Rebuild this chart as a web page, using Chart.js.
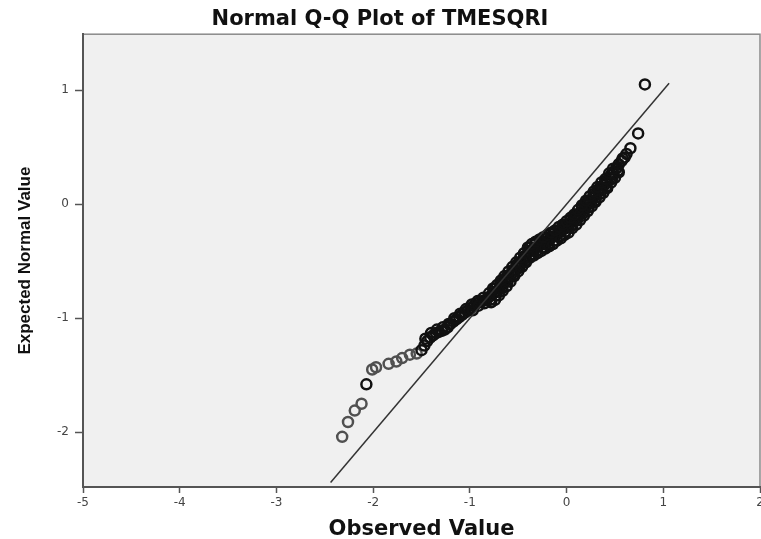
<!DOCTYPE html>
<html lang="en">
<head>
  <meta charset="UTF-8" />
  <title>Normal Q-Q Plot of TMESQRI</title>
  <style>
    html, body {
      margin: 0;
      padding: 0;
      background: #ffffff;
      overflow: hidden;
    }
    #wrap {
      width: 761px;
      height: 539px;
      overflow: hidden;
    }
  </style>
</head>
<body>
  <div id="wrap">
    <canvas id="chart" width="775" height="539"></canvas>
  </div>

  <script src="https://cdn.jsdelivr.net/npm/chart.js"></script>
  <script>
    const obsValues = [
      -2.32, -2.26, -2.19, -2.12, -2.07, -2.01, -1.97, -1.84, -1.76, -1.70, -1.62, -1.55,
      -1.50, -1.47, -1.44, -1.41, -1.38, -1.35, -1.32, -1.29, -1.26, -1.23, -1.20, -1.17,
      -1.14, -1.11, -1.08, -1.05, -1.02, -0.99, -0.96, -0.93, -0.90, -0.87, -0.84, -0.81,
      -0.78, -0.75, -0.72, -0.69, -0.66, -0.63, -0.60, -0.57, -0.54, -0.51, -0.48, -0.45,
      -0.42, -0.39, -0.36, -0.33, -0.30, -0.27, -0.24, -0.21, -0.18, -0.15, -0.12, -0.09,
      -0.06, -0.03, 0.00, 0.03, 0.06, 0.09, 0.12, 0.15, 0.18, 0.21, 0.24, 0.27,
      0.30, 0.33, 0.36, 0.39, 0.42, 0.45, 0.48, 0.51, 0.54, 0.57, 0.60, 0.62,
      -1.46, -1.40, -1.34, -1.28, -1.22, -1.16, -1.10, -1.04, -0.98, -0.92, -0.86, -0.80,
      -0.74, -0.68, -0.62, -0.56, -0.50, -0.44, -0.38, -0.32, -0.26, -0.20, -0.14, -0.08,
      -0.02, 0.04, 0.10, 0.16, 0.22, 0.28, 0.34, 0.40, 0.46, 0.52, 0.58,
      -0.97, -0.91, -0.85, -0.79, -0.73, -0.67, -0.61, -0.55, -0.49, -0.43, -0.37, -0.31,
      -0.25, -0.19, -0.13, -0.07, -0.01, 0.05, 0.11, 0.17, 0.23, 0.29, 0.35, 0.41,
      0.47, 0.53,
      -0.78, -0.74, -0.70, -0.66, -0.62, -0.58, -0.54, -0.50, -0.46, -0.42, -0.38, -0.34,
      -0.30, -0.26, -0.22, -0.18, -0.14, -0.10, -0.06, -0.02, 0.02, 0.06, 0.10, 0.14,
      0.18, 0.22, 0.26, 0.30, 0.34, 0.38, 0.42, 0.46, 0.50, 0.54,
      -0.76, -0.72, -0.68, -0.64, -0.60, -0.56, -0.52, -0.48, -0.44, -0.40, -0.36, -0.32,
      -0.28, -0.24, -0.20, -0.16, -0.12, -0.08, -0.04, 0.00, 0.04, 0.08, 0.12, 0.16,
      0.20, 0.24, 0.28, 0.32, 0.36, 0.40, 0.44, 0.48,
      0.66, 0.74, 0.81
    ];
    const expValues = [
      -2.04, -1.91, -1.81, -1.75, -1.58, -1.45, -1.43, -1.40, -1.38, -1.35, -1.32, -1.31,
      -1.28, -1.24, -1.20, -1.17, -1.15, -1.13, -1.12, -1.11, -1.10, -1.08, -1.05, -1.03,
      -1.01, -0.99, -0.97, -0.95, -0.93, -0.91, -0.89, -0.87, -0.86, -0.85, -0.84, -0.82,
      -0.80, -0.78, -0.76, -0.73, -0.70, -0.67, -0.64, -0.61, -0.58, -0.55, -0.52, -0.49,
      -0.45, -0.42, -0.40, -0.39, -0.37, -0.36, -0.34, -0.33, -0.31, -0.29, -0.28, -0.26,
      -0.24, -0.22, -0.20, -0.18, -0.15, -0.13, -0.10, -0.07, -0.04, -0.01, 0.02, 0.05,
      0.08, 0.11, 0.14, 0.17, 0.20, 0.23, 0.27, 0.31, 0.35, 0.38, 0.41, 0.44,
      -1.18, -1.13, -1.10, -1.08, -1.05, -1.00, -0.96, -0.92, -0.88, -0.85, -0.82, -0.78,
      -0.74, -0.69, -0.64, -0.58, -0.52, -0.46, -0.38, -0.35, -0.33, -0.30, -0.26, -0.23,
      -0.19, -0.14, -0.09, -0.03, 0.03, 0.09, 0.14, 0.20, 0.26, 0.32, 0.40,
      -0.93, -0.89, -0.87, -0.84, -0.80, -0.74, -0.68, -0.62, -0.56, -0.50, -0.44, -0.41,
      -0.38, -0.35, -0.32, -0.28, -0.24, -0.19, -0.14, -0.08, -0.03, 0.03, 0.09, 0.15,
      0.22, 0.29,
      -0.86, -0.84, -0.80, -0.76, -0.72, -0.68, -0.63, -0.59, -0.55, -0.51, -0.47, -0.45,
      -0.43, -0.41, -0.39, -0.37, -0.35, -0.32, -0.30, -0.27, -0.25, -0.21, -0.18, -0.14,
      -0.10, -0.06, -0.02, 0.02, 0.06, 0.10, 0.14, 0.19, 0.23, 0.28,
      -0.74, -0.71, -0.67, -0.63, -0.59, -0.55, -0.51, -0.47, -0.43, -0.38, -0.35, -0.33,
      -0.31, -0.29, -0.27, -0.25, -0.23, -0.20, -0.18, -0.15, -0.12, -0.09, -0.05, -0.01,
      0.03, 0.07, 0.11, 0.15, 0.19, 0.22, 0.27, 0.31,
      0.49, 0.62, 1.05
    ];

    // reference line y = x
    const lineX = [-2.44, 1.06];
    const lineY = [-2.44, 1.06];

    const xTicks = [-5, -4, -3, -2, -1, 0, 1, 2];
    const yTicks = [-2, -1, 0, 1];

    const points = obsValues.map((x, i) => ({ x: x, y: expValues[i] }));
    const refLine = lineX.map((x, i) => ({ x: x, y: lineY[i] }));

    // grey plot background + thin frame
    const plotFrame = {
      id: 'plotFrame',
      beforeDraw(chart) {
        const { ctx, chartArea: a } = chart;
        ctx.save();
        ctx.fillStyle = '#f0f0f0';
        ctx.fillRect(a.left, a.top, a.right - a.left, a.bottom - a.top);
        ctx.strokeStyle = '#8a8a8a';
        ctx.lineWidth = 1.5;
        ctx.strokeRect(a.left, a.top, a.right - a.left, a.bottom - a.top);
        ctx.restore();
      }
    };

    const tickFont = { family: "'DejaVu Sans', sans-serif", size: 12 };

    new Chart(document.getElementById('chart'), {
      type: 'scatter',
      data: {
        datasets: [
          {
            type: 'line',
            data: refLine,
            borderColor: '#333333',
            borderWidth: 1.5,
            pointRadius: 0,
            fill: false
          },
          {
            data: points,
            pointStyle: 'circle',
            pointRadius: 5,
            pointBorderWidth: 2.5,
            pointBorderColor: ctx => (ctx.raw && ctx.raw.x < -1.5 && ctx.raw.x > -2.05) || (ctx.raw && ctx.raw.x < -2.09) ? '#505050' : '#111111',
            pointBackgroundColor: 'rgba(0,0,0,0)'
          }
        ]
      },
      options: {
        responsive: false,
        animation: false,
        layout: { padding: { left: 0, right: 15, top: 0, bottom: 0 } },
        plugins: {
          legend: { display: false },
          tooltip: { enabled: false },
          title: {
            display: true,
            text: 'Normal Q-Q Plot of TMESQRI',
            color: '#111111',
            font: { family: "'DejaVu Sans', sans-serif", size: 21, weight: 'bold', lineHeight: 1.2 },
            padding: { top: 7, bottom: 2 }
          }
        },
        scales: {
          x: {
            type: 'linear',
            min: -5,
            max: 2,
            afterBuildTicks: s => { s.ticks = xTicks.map(v => ({ value: v })); },
            afterFit: s => { s.height = 52; },
            grid: {
              drawOnChartArea: false,
              drawTicks: true,
              tickLength: 6,
              tickWidth: 1.5,
              tickColor: '#555555'
            },
            border: { color: '#555555', width: 2 },
            ticks: { color: '#444444', font: tickFont, padding: 3 },
            title: {
              display: true,
              text: 'Observed Value',
              color: '#111111',
              font: { family: "'DejaVu Sans', sans-serif", size: 21, weight: 'bold', lineHeight: 0.9 },
              padding: { top: 0, bottom: 0 }
            }
          },
          y: {
            type: 'linear',
            min: -2.48,
            max: 1.49,
            afterBuildTicks: s => { s.ticks = yTicks.map(v => ({ value: v })); },
            afterFit: s => { s.width = 83; },
            grid: {
              drawOnChartArea: false,
              drawTicks: true,
              tickLength: 8,
              tickWidth: 1.5,
              tickColor: '#555555'
            },
            border: { color: '#555555', width: 2 },
            ticks: { color: '#444444', font: tickFont, padding: 6 },
            title: {
              display: true,
              text: 'Expected Normal Value',
              color: '#111111',
              font: { family: "'Liberation Sans Narrow', 'Liberation Sans', sans-serif", size: 17, weight: 'bold', lineHeight: 1.2 },
              padding: { top: 15, bottom: 0 }
            }
          }
        }
      },
      plugins: [plotFrame]
    });
  </script>
</body>
</html>
